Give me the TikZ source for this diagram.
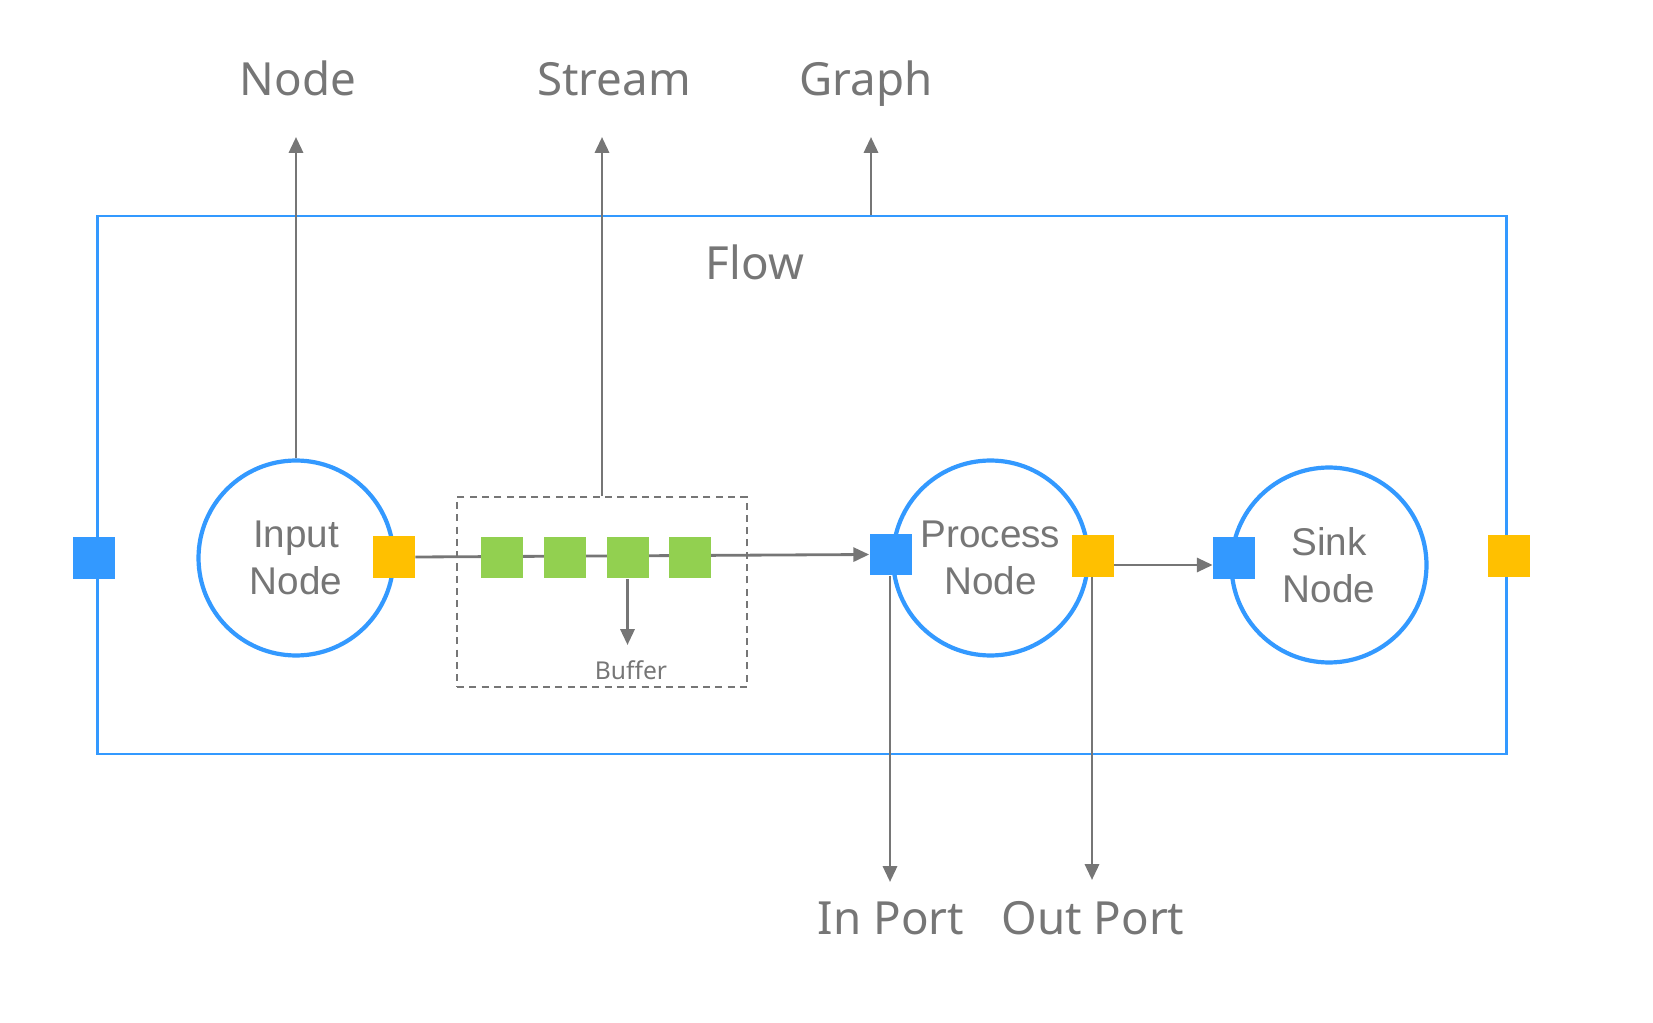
\documentclass[tikz,border=0pt]{standalone}
\usepackage{fontspec}
\setmainfont{Noto Sans}
\newfontfamily\circfont{Liberation Sans}
\usetikzlibrary{arrows.meta, positioning, calc}
\definecolor{flowblue}{RGB}{51, 153, 255}
\definecolor{portorange}{RGB}{255, 192, 0}
\definecolor{buffgreen}{RGB}{146, 208, 80}
\definecolor{flowgray}{RGB}{118, 118, 118}

\begin{document}
\begin{tikzpicture}[
        x=0.02cm, y=-0.02cm,
        proc/.style={circle, draw=flowblue, line width=2.4pt, fill=white, minimum size=3.9cm, inner sep=0pt, align=center, text=flowgray, font=\circfont\fontsize{22}{26.5}\selectfont},
        port/.style={rectangle, minimum size=0.84cm, inner sep=0pt},
        inport/.style={port, fill=flowblue},
        outport/.style={port, fill=portorange},
        bufitem/.style={port, fill=buffgreen},
        toplabel/.style={text=flowgray, font=\fontsize{26}{31}\selectfont, anchor=base},
        arrow/.style={-{Triangle[length=9pt, width=8pt]}, draw=flowgray, line width=1.6pt}
    ]
        \useasboundingbox (0,0) rectangle (1653,1023);

        % Flow frame
        \node[draw=flowblue, line width=1.6pt, minimum width=28.2cm, minimum height=10.76cm] (frame) at (802, 485) {};
        \node[toplabel] (flowlbl) at (755, 280) {Flow};

        % Buffer
        \node[draw=flowgray, dashed, dash pattern=on 4pt off 3pt, line width=1pt, minimum width=5.8cm, minimum height=3.8cm] (buffer) at (602, 592) {};
        \node[toplabel, font=\fontsize{14}{16}\selectfont] (buflbl) at (631, 679) {Buffer};

        % Nodes
        \node[proc] (input) at (296, 558) {Input\\Node};
        \node[proc] (process) at (990.5, 558) {Process\\Node};
        \node[proc] (sink) at (1329, 565) {Sink\\Node};

        % Ports
        \node[inport] (flowin) at (94, 558) {};
        \node[outport] (inout) at (394, 557) {};
        \node[inport] (procin) at (890.5, 554.5) {};
        \node[outport] (procout) at (1093, 556) {};
        \node[inport] (sinkin) at (1234, 558) {};
        \node[outport] (flowout) at (1509, 556) {};

        % Labels
        \node[toplabel] (nodelbl) at (298, 96) {Node};
        \node[toplabel] (streamlbl) at (614, 96) {Stream};
        \node[toplabel] (graphlbl) at (866, 96) {Graph};
        \node[toplabel] (inlbl) at (891, 934) {In Port};
        \node[toplabel] (outlbl) at (1093, 934) {Out Port};

        % Arrow ends
        \coordinate (nodetip) at (296, 137);
        \coordinate (streamtip) at (602, 137);
        \coordinate (graphtip) at (871, 137);
        \coordinate (intip) at (890, 882);
        \coordinate (outtip) at (1092, 880);
        \coordinate (bufend) at (623, 645);
        \coordinate (linkrow) at (0, 565);

        % Arrows
        \draw[arrow] (input.north) -- (nodetip);
        \draw[arrow] (buffer.north -| streamtip) -- (streamtip);
        \draw[arrow] (frame.north -| graphtip) -- (graphtip);
        \draw[arrow] (inout.east) -- (procin.west);
        \draw[arrow] (procout.east |- linkrow) -- (sinkin.west |- linkrow);
        \draw[arrow] (procin.south -| intip) -- (intip);
        \draw[arrow] (procout.south -| outtip) -- (outtip);

        % Buffered items
        \foreach \i/\x in {1/502, 2/565, 3/627.5, 4/690}
            \node[bufitem] (b\i) at (\x, 557.5) {};
        \draw[arrow] (b3.south) -- (b3.south |- bufend);
    \end{tikzpicture}
\end{document}
